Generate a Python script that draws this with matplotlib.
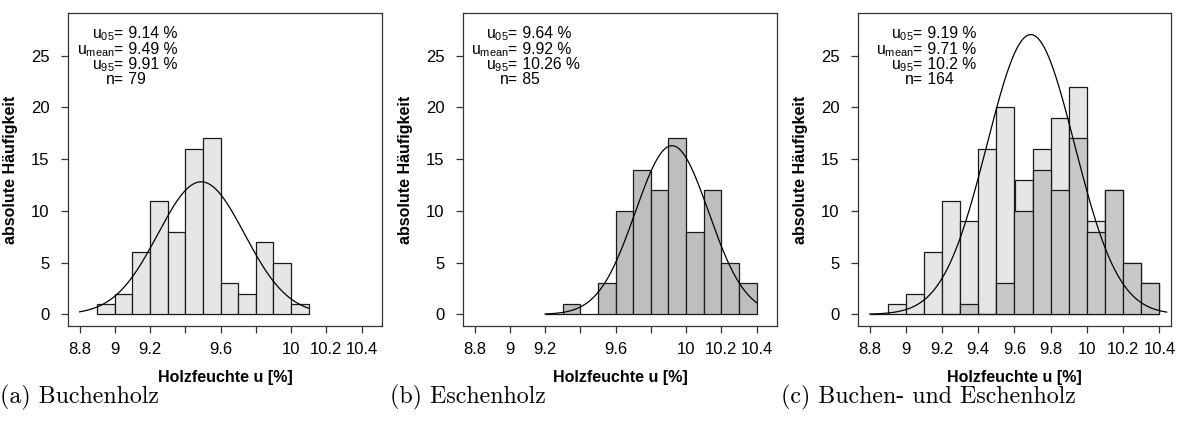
import numpy as np
import matplotlib.pyplot as plt

plt.rcParams["font.family"] = ["Liberation Sans", "DejaVu Sans"]
plt.rcParams["mathtext.fontset"] = "custom"
plt.rcParams["mathtext.rm"] = "Liberation Sans"
plt.rcParams["mathtext.it"] = "Liberation Sans:italic"

# ── DATA ──────────────────────────────────────────────────────
BIN_W = 0.1

# (a) Buchenholz
buche_edges0 = 8.9
buche_counts = [1, 2, 6, 11, 8, 16, 17, 3, 2, 7, 5, 1]

# (b) Eschenholz
esche_edges0 = 9.2
esche_counts = [0, 1, 0, 3, 10, 14, 12, 17, 8, 12, 5, 3]

# (c) Buchen- und Eschenholz (total)
gesamt_edges0 = 8.8
gesamt_counts = [0, 1, 2, 6, 11, 9, 16, 20, 13, 16, 19, 22, 9, 12, 5, 3]

# fitted normal curves: mean, sd, n, x range
curve_mean = [9.49, 9.92, 9.69]
curve_sd = [0.246, 0.208, 0.242]
curve_n = [79, 85, 164]
curve_from = [8.8, 9.2, 8.8]
curve_to = [10.1, 10.4, 10.44]

stat_labels = [r"u$_{\mathrm{05}}$=", r"u$_{\mathrm{mean}}$=", r"u$_{\mathrm{95}}$=", "n="]
stat_values = [
    [" 9.14 %", " 9.49 %", " 9.91 %", " 79"],
    [" 9.64 %", " 9.92 %", " 10.26 %", " 85"],
    [" 9.19 %", " 9.71 %", " 10.2 %", " 164"],
]

captions = ["(a) Buchenholz", "(b) Eschenholz", "(c) Buchen- und Eschenholz"]

xticks = [8.8, 9.0, 9.2, 9.4, 9.6, 9.8, 10.0, 10.2, 10.4]
xtick_labels_ab = ["8.8", "9", "9.2", "", "9.6", "", "10", "10.2", "10.4"]
xtick_labels_c = ["8.8", "9", "9.2", "9.4", "9.6", "9.8", "10", "10.2", "10.4"]
yticks = [0, 5, 10, 15, 20, 25]

LIGHT = "#E6E6E6"
DARK_B = "#BEBEBE"
DARK_C = "#C8C8C8"
EDGE = "#1a1a1a"
FS_TICK = 12
FS_LAB = 11.5
FS_STAT = 11.3


def r_lim(lo, hi):
    d = (hi - lo) * 0.04
    return lo - d, hi + d


def draw_hist(ax, start, counts, color):
    lefts = start + BIN_W * np.arange(len(counts))
    ax.bar(lefts, counts, width=BIN_W, align="edge", color=color,
           edgecolor=EDGE, linewidth=0.9, zorder=2)


fig = plt.figure(figsize=(11.81, 4.24), dpi=100)
lefts_px = [68, 463, 858]
widths_px = [314, 314, 313]
axes = [fig.add_axes([l / 1181, 1 - 326 / 424, w / 1181, 313 / 424])
        for l, w in zip(lefts_px, widths_px)]

stat_x = [0.178, 0.175, 0.208]
stat_y = [0.920, 0.869, 0.821, 0.773]

for i, ax in enumerate(axes):
    if i == 0:
        draw_hist(ax, buche_edges0, buche_counts, LIGHT)
        ax.set_xlim(*r_lim(8.8, 10.45))
    elif i == 1:
        draw_hist(ax, esche_edges0, esche_counts, DARK_B)
        ax.set_xlim(*r_lim(8.8, 10.45))
    else:
        draw_hist(ax, gesamt_edges0, gesamt_counts, LIGHT)
        draw_hist(ax, esche_edges0, esche_counts, DARK_C)
        ax.set_xlim(*r_lim(8.8, 10.4))

    xs = np.linspace(curve_from[i], curve_to[i], 300)
    ys = curve_n[i] * BIN_W / (curve_sd[i] * np.sqrt(2 * np.pi)) * \
        np.exp(-0.5 * ((xs - curve_mean[i]) / curve_sd[i]) ** 2)
    ax.plot(xs, ys, color="black", linewidth=0.9, zorder=3)

    ax.set_ylim(*r_lim(0, 28))
    ax.set_yticks(yticks)
    ax.set_yticklabels([str(t) for t in yticks])
    ax.set_xticks(xticks)
    ax.set_xticklabels(xtick_labels_c if i == 2 else xtick_labels_ab)
    ax.tick_params(axis="y", length=4.8, width=0.9, pad=8.5, labelsize=FS_TICK,
                   color="#333333")
    ax.tick_params(axis="x", length=4.8, width=0.9, pad=6.5, labelsize=FS_TICK,
                   color="#333333")
    for sp in ax.spines.values():
        sp.set_color("#333333")
        sp.set_linewidth(0.9)

    ax.set_ylabel("absolute Häufigkeit", fontsize=FS_LAB, fontweight="bold")
    ax.yaxis.set_label_coords(-0.159, 0.5)
    ax.set_xlabel("Holzfeuchte u [%]", fontsize=FS_LAB, fontweight="bold")
    ax.xaxis.set_label_coords(0.5, -0.163)
    ax.xaxis.label.set_va("center")

    for lab, val, y in zip(stat_labels, stat_values[i], stat_y):
        ax.text(stat_x[i], y, lab, transform=ax.transAxes, ha="right",
                va="baseline", fontsize=FS_STAT)
        ax.text(stat_x[i], y, val, transform=ax.transAxes, ha="left",
                va="baseline", fontsize=FS_STAT)

cap_x = [0, 390, 781]
for cx, cap in zip(cap_x, captions):
    fig.text(cx / 1181, 1 - 397 / 424, cap, family=["cmr10", "DejaVu Serif"],
             fontsize=17.2, ha="left", va="center")

fig.savefig("out.png", dpi=100)
